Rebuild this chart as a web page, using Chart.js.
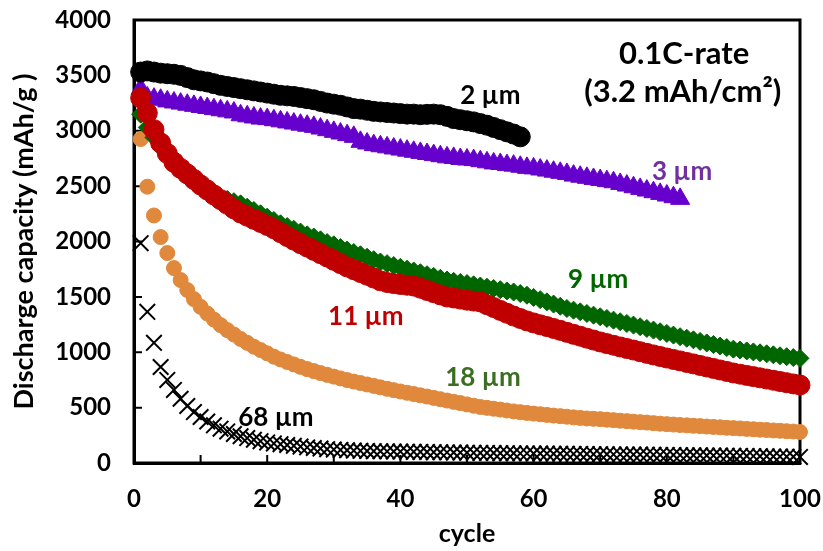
<!DOCTYPE html>
<html>
<head>
<meta charset="utf-8">
<script src="https://cdn.jsdelivr.net/npm/chart.js@4.4.1/dist/chart.umd.min.js"></script>
<style>
  html, body { margin: 0; padding: 0; background: #fff; }
</style>
</head>
<body>
<canvas id="grafico" width="823" height="551"></canvas>
<script>
const cycles = [1,2,3,4,5,6,7,8,9,10,11,12,13,14,15,16,17,18,19,20,
  21,22,23,24,25,26,27,28,29,30,31,32,33,34,35,36,37,38,39,40,
  41,42,43,44,45,46,47,48,49,50,51,52,53,54,55,56,57,58,59,60,
  61,62,63,64,65,66,67,68,69,70,71,72,73,74,75,76,77,78,79,80,
  81,82,83,84,85,86,87,88,89,90,91,92,93,94,95,96,97,98,99,100];

// discharge capacity (mAh/g) per cycle
const um2 = [3530,3540,3530,3520,3515,3510,3500,3480,3460,3450,
  3440,3425,3410,3400,3390,3380,3370,3360,3350,3340,
  3330,3320,3315,3310,3300,3290,3280,3265,3250,3240,
  3230,3215,3200,3195,3185,3175,3170,3165,3160,3155,
  3150,3150,3145,3148,3150,3145,3130,3110,3100,3090,
  3080,3065,3050,3030,3010,2990,2970,2945];

const um3 = [3380,3300,3290,3280,3265,3255,3245,3235,3225,3215,
  3205,3195,3185,3175,3165,3140,3130,3120,3110,3105,
  3095,3085,3075,3065,3055,3045,3035,3020,3005,2990,
  2975,2960,2945,2900,2885,2870,2860,2850,2840,2830,
  2820,2810,2800,2790,2780,2770,2760,2755,2745,2740,
  2735,2725,2715,2705,2700,2690,2685,2675,2665,2660,
  2650,2640,2630,2620,2610,2595,2585,2575,2565,2555,
  2545,2535,2520,2505,2490,2475,2460,2445,2430,2415,
  2400,2385];

const um9 = [3150,3030,2940,2850,2770,2700,2640,2585,2535,2490,
  2455,2425,2400,2380,2360,2340,2310,2280,2250,2220,
  2190,2160,2135,2110,2085,2060,2040,2015,1990,1970,
  1945,1923,1900,1880,1858,1836,1815,1800,1783,1767,
  1750,1734,1718,1700,1685,1668,1652,1640,1630,1620,
  1609,1598,1587,1576,1565,1554,1544,1530,1515,1495,
  1475,1455,1435,1415,1395,1380,1365,1350,1335,1320,
  1305,1290,1275,1260,1245,1230,1215,1200,1185,1170,
  1155,1140,1126,1112,1098,1084,1070,1056,1042,1028,
  1020,1012,1003,995,986,977,968,960,952,945];

const um11 = [3296,3160,3010,2890,2795,2715,2660,2610,2560,2510,
  2465,2420,2378,2336,2295,2257,2228,2200,2172,2145,
  2115,2080,2045,2012,1980,1950,1920,1890,1860,1830,
  1800,1770,1745,1720,1695,1670,1645,1630,1620,1612,
  1605,1598,1578,1558,1538,1518,1499,1490,1480,1470,
  1462,1454,1429,1404,1378,1352,1327,1305,1283,1265,
  1248,1232,1215,1198,1180,1162,1145,1127,1110,1093,
  1078,1063,1048,1034,1020,1005,990,976,962,948,
  935,922,908,895,881,867,854,840,827,813,
  802,791,780,769,758,747,736,725,714,704];

const um18 = [2925,2495,2235,2040,1896,1760,1652,1562,1480,1410,
  1350,1295,1245,1200,1160,1120,1085,1050,1020,990,
  960,935,912,890,868,848,830,812,796,780,
  764,749,735,722,709,696,683,670,658,646,
  634,623,611,600,588,576,564,552,541,529,
  517,506,498,490,482,474,466,459,452,446,
  440,434,428,423,418,412,407,402,399,396,
  391,387,382,378,373,369,365,360,355,351,
  347,343,340,336,333,329,326,322,318,315,
  312,308,305,301,298,294,291,287,284,280];

const um68 = [1985,1365,1085,867,750,660,580,515,460,415,
  375,340,310,285,262,242,225,210,197,186,
  177,170,163,155,148,141,135,130,125,121,
  118,115,112,110,108,107,106,105,104,103,
  102,101,100,99,98,97,96,95,94,93,
  92,91,91,90,89,89,88,87,87,86,
  86,85,84,84,83,82,82,81,80,80,
  79,78,78,77,76,76,75,74,73,73,
  72,71,70,70,69,68,67,67,66,65,
  64,63,62,61,60,59,58,57,56,55];

const xTicks = [0, 20, 40, 60, 80, 100];
const yTicks = [0, 500, 1000, 1500, 2000, 2500, 3000, 3500, 4000];

// labels placed in data coordinates (cycle, mAh/g)
const notes = [
  { text: '0.1C-rate', x: 82.6, y: 3693, color: '#000000', size: 31 },
  { text: '(3.2 mAh/cm\u00B2)', x: 82.4, y: 3350, color: '#000000', size: 31 },
  { text: '2 \u00B5m', x: 53.5, y: 3314, color: '#000000', size: 26 },
  { text: '3 \u00B5m', x: 82.3, y: 2630, color: '#7030A0', size: 26 },
  { text: '9 \u00B5m', x: 69.7, y: 1652, color: '#006600', size: 26 },
  { text: '11 \u00B5m', x: 34.8, y: 1318, color: '#C00000', size: 26 },
  { text: '18 \u00B5m', x: 52.4, y: 767, color: '#3B6E22', size: 26 },
  { text: '68 \u00B5m', x: 21.3, y: 406, color: '#000000', size: 26 }
];

const FONT = 'Lato, "Open Sans", sans-serif';

function pontos(valores) {
  return valores.map((v, i) => ({ x: cycles[i], y: v }));
}

const moldura = {
  id: 'moldura',
  beforeDatasetsDraw(chart) {
    const { ctx, chartArea: a, scales: { x, y } } = chart;
    ctx.save();
    ctx.strokeStyle = '#000';
    ctx.lineWidth = 3;
    ctx.strokeRect(a.left, a.top, a.right - a.left, a.bottom - a.top);
    ctx.lineWidth = 2;
    ctx.beginPath();
    yTicks.slice(1, -1).forEach(v => {
      const py = y.getPixelForValue(v);
      ctx.moveTo(a.left, py);
      ctx.lineTo(a.left + 8, py);
    });
    for (let c = 10; c < 100; c += 10) {
      const px = x.getPixelForValue(c);
      ctx.moveTo(px, a.bottom);
      ctx.lineTo(px, a.bottom - 8);
    }
    ctx.stroke();
    ctx.restore();
  }
};

const rotulos = {
  id: 'rotulos',
  afterDatasetsDraw(chart) {
    const { ctx, scales: { x, y } } = chart;
    ctx.save();
    ctx.textAlign = 'center';
    ctx.textBaseline = 'middle';
    notes.forEach(n => {
      ctx.font = 'bold ' + n.size + 'px ' + FONT;
      ctx.fillStyle = n.color;
      ctx.fillText(n.text, x.getPixelForValue(n.x), y.getPixelForValue(n.y));
    });
    ctx.restore();
  }
};

const canva = document.getElementById('grafico');

new Chart(canva, {
  type: 'scatter',
  data: {
    datasets: [
      { label: '11 um', data: pontos(um11), pointStyle: 'circle', pointRadius: 10,
        backgroundColor: '#C00000', borderColor: '#C00000', borderWidth: 1, clip: false },
      { label: '2 um', data: pontos(um2), pointStyle: 'circle', pointRadius: 10,
        backgroundColor: '#000000', borderColor: '#000000', borderWidth: 1, clip: false },
      { label: '3 um', data: pontos(um3), pointStyle: 'triangle', pointRadius: 11,
        backgroundColor: '#6600CC', borderColor: '#6600CC', borderWidth: 1, clip: false },
      { label: '9 um', data: pontos(um9), pointStyle: 'rectRot', pointRadius: 9,
        backgroundColor: '#006600', borderColor: '#006600', borderWidth: 1, clip: false },
      { label: '18 um', data: pontos(um18), pointStyle: 'circle', pointRadius: 7.5,
        backgroundColor: '#E0883C', borderColor: '#E0883C', borderWidth: 1, clip: false },
      { label: '68 um', data: pontos(um68), pointStyle: 'crossRot', pointRadius: 11,
        backgroundColor: '#000000', borderColor: '#000000', borderWidth: 2, clip: false }
    ]
  },
  options: {
    responsive: false,
    animation: false,
    devicePixelRatio: 1,
    layout: { padding: { top: 20, right: 23, left: 0, bottom: 0 } },
    plugins: { legend: { display: false }, tooltip: { enabled: false } },
    scales: {
      x: {
        type: 'linear', min: 0, max: 100,
        afterFit: s => { s.height = 88; s.paddingLeft = 0; s.paddingRight = 0; },
        afterBuildTicks: s => { s.ticks = xTicks.map(v => ({ value: v })); },
        grid: { display: false, drawTicks: false },
        border: { display: true, color: '#000', width: 3 },
        ticks: { color: '#000', padding: 22, font: { family: FONT, size: 24, weight: 'bold' },
          callback: v => String(v) },
        title: { display: true, text: 'cycle', color: '#000', padding: { top: 0, bottom: 2 },
          font: { family: FONT, size: 25, weight: 'bold' } }
      },
      y: {
        min: 0, max: 4000,
        afterFit: s => { s.width = 134; s.paddingTop = 0; s.paddingBottom = 0; },
        afterBuildTicks: s => { s.ticks = yTicks.map(v => ({ value: v })); },
        grid: { display: false, drawTicks: false },
        border: { display: true, color: '#000', width: 3 },
        ticks: { color: '#000', padding: 23, font: { family: FONT, size: 24, weight: 'bold' },
          callback: v => String(v) },
        title: { display: true, text: 'Discharge capacity (mAh/g )', color: '#000', padding: { top: 8, bottom: 0 },
          font: { family: FONT, size: 27, weight: 'bold' } }
      }
    }
  },
  plugins: [moldura, rotulos]
});
</script>
</body>
</html>
